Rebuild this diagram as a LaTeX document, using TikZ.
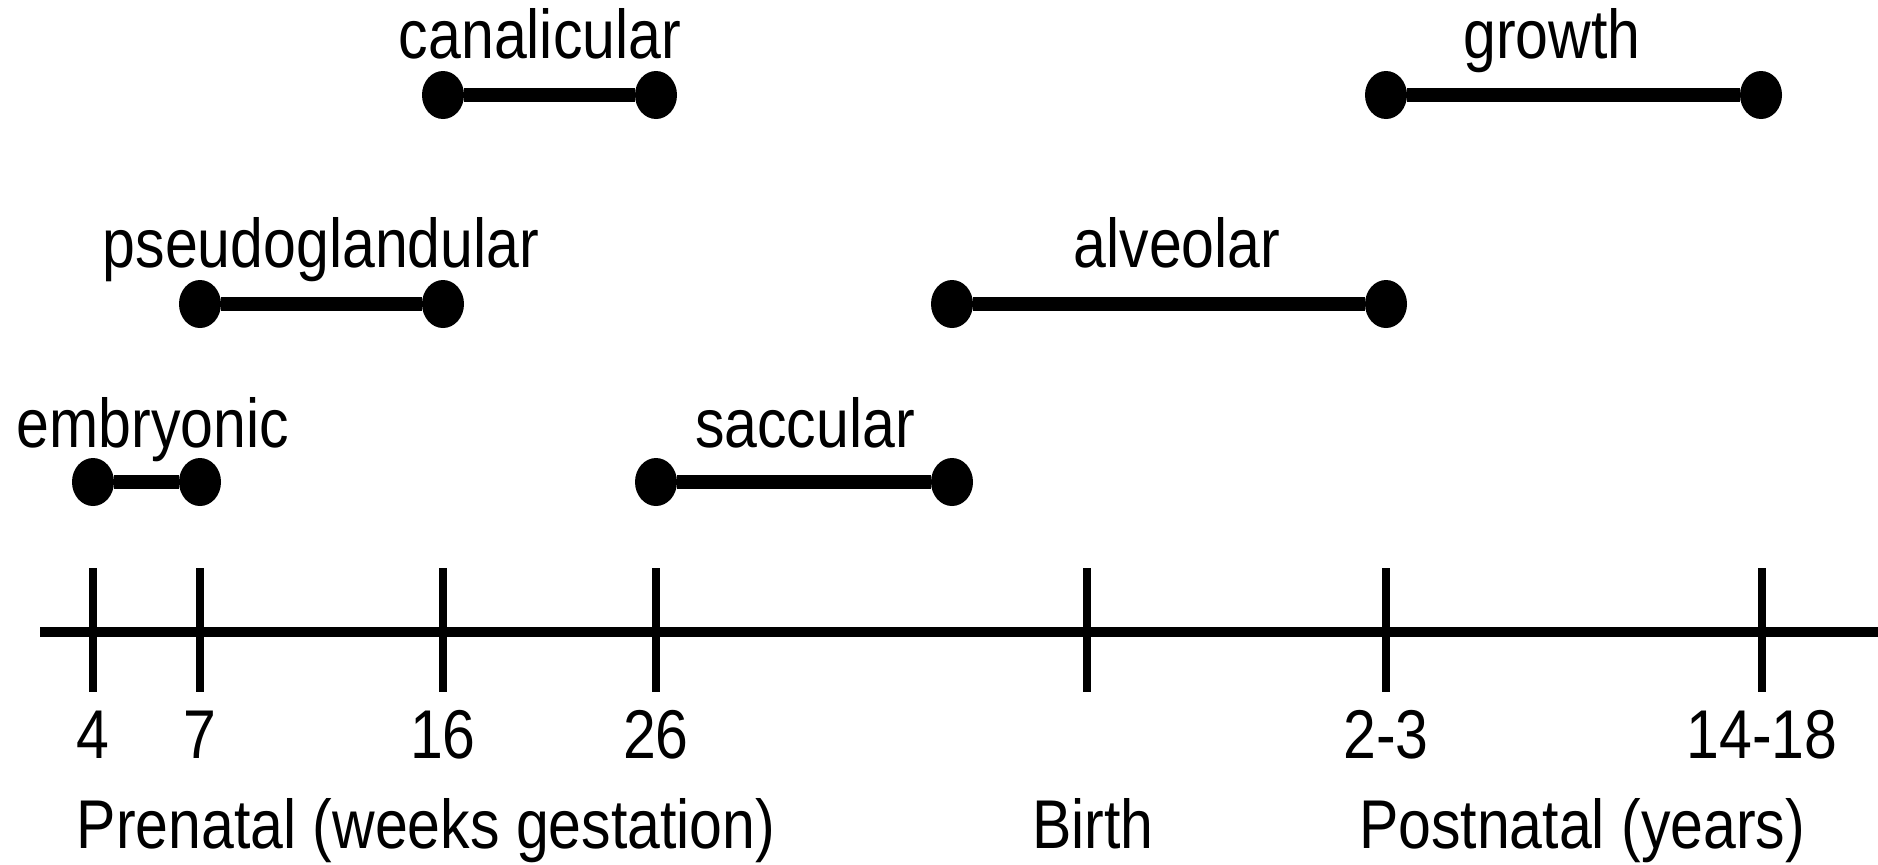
\documentclass[tikz,border=0pt]{standalone}
\usepackage{fontspec}
\usepackage{graphicx}
\setmainfont{Liberation Sans}
\usetikzlibrary{shapes.geometric}
\newcommand{\tallt}[1]{\scalebox{1}[1.17]{#1}}
\begin{document}
\begin{tikzpicture}[x=0.5pt,y=-0.5pt,
  dot/.style={ellipse,fill=black,draw=none,inner sep=0pt,minimum width=21pt,minimum height=24pt},
  bar/.style={line width=7pt},
  axisline/.style={line width=5pt},
  tickline/.style={line width=3.8pt},
  lab/.style={anchor=base,inner sep=0pt,font=\fontsize{29.5}{32}\selectfont}
]
\useasboundingbox (0,0) rectangle (1878,864);
% axis
\coordinate (axL) at (40,632);
\coordinate (axR) at (1878,632);
\draw[axisline] (axL) -- (axR);
% ticks
\foreach \n/\x in {t4/93,t7/200,t16/443,t26/656,tb/1087,t23/1386,t1418/1762}{
  \coordinate (\n top) at (\x,568);
  \coordinate (\n bot) at (\x,692);
  \draw[tickline] (\n top) -- (\n bot);
}
% tick labels
\node[lab] (n4) at (93,758) {\tallt{4}};
\node[lab] (n7) at (200,758) {\tallt{7}};
\node[lab] (n16) at (443,758) {\tallt{16}};
\node[lab] (n26) at (656,758) {\tallt{26}};
\node[lab] (n23) at (1386,758) {\tallt{2-3}};
\node[lab] (n1418) at (1762,758) {\tallt{14-18}};
% bottom labels
\node[lab] (pre) at (426,848) {\tallt{Prenatal (weeks gestation)}};
\node[lab] (birth) at (1093,848) {\tallt{Birth}};
\node[lab] (post) at (1582,848) {\tallt{Postnatal (years)}};
% stage dots
\node[dot] (emA) at (93,482) {};
\node[dot] (emB) at (200,482) {};
\node[dot] (psA) at (200,304) {};
\node[dot] (psB) at (443,304) {};
\node[dot] (caA) at (443,95) {};
\node[dot] (caB) at (656,95) {};
\node[dot] (saA) at (656,482) {};
\node[dot] (saB) at (952,482) {};
\node[dot] (alA) at (952,304) {};
\node[dot] (alB) at (1386,304) {};
\node[dot] (grA) at (1386,95) {};
\node[dot] (grB) at (1761,95) {};
\draw[bar] (emA) -- (emB);
\draw[bar] (psA) -- (psB);
\draw[bar] (caA) -- (caB);
\draw[bar] (saA) -- (saB);
\draw[bar] (alA) -- (alB);
\draw[bar] (grA) -- (grB);
% stage labels
\node[lab] (emL) at (153,447) {\tallt{embryonic}};
\node[lab] (psL) at (321,267) {\tallt{pseudoglandular}};
\node[lab] (caL) at (540,58) {\tallt{canalicular}};
\node[lab] (saL) at (805,447) {\tallt{saccular}};
\node[lab] (alL) at (1177,267) {\tallt{alveolar}};
\node[lab] (grL) at (1552,58) {\tallt{growth}};
\end{tikzpicture}
\end{document}
